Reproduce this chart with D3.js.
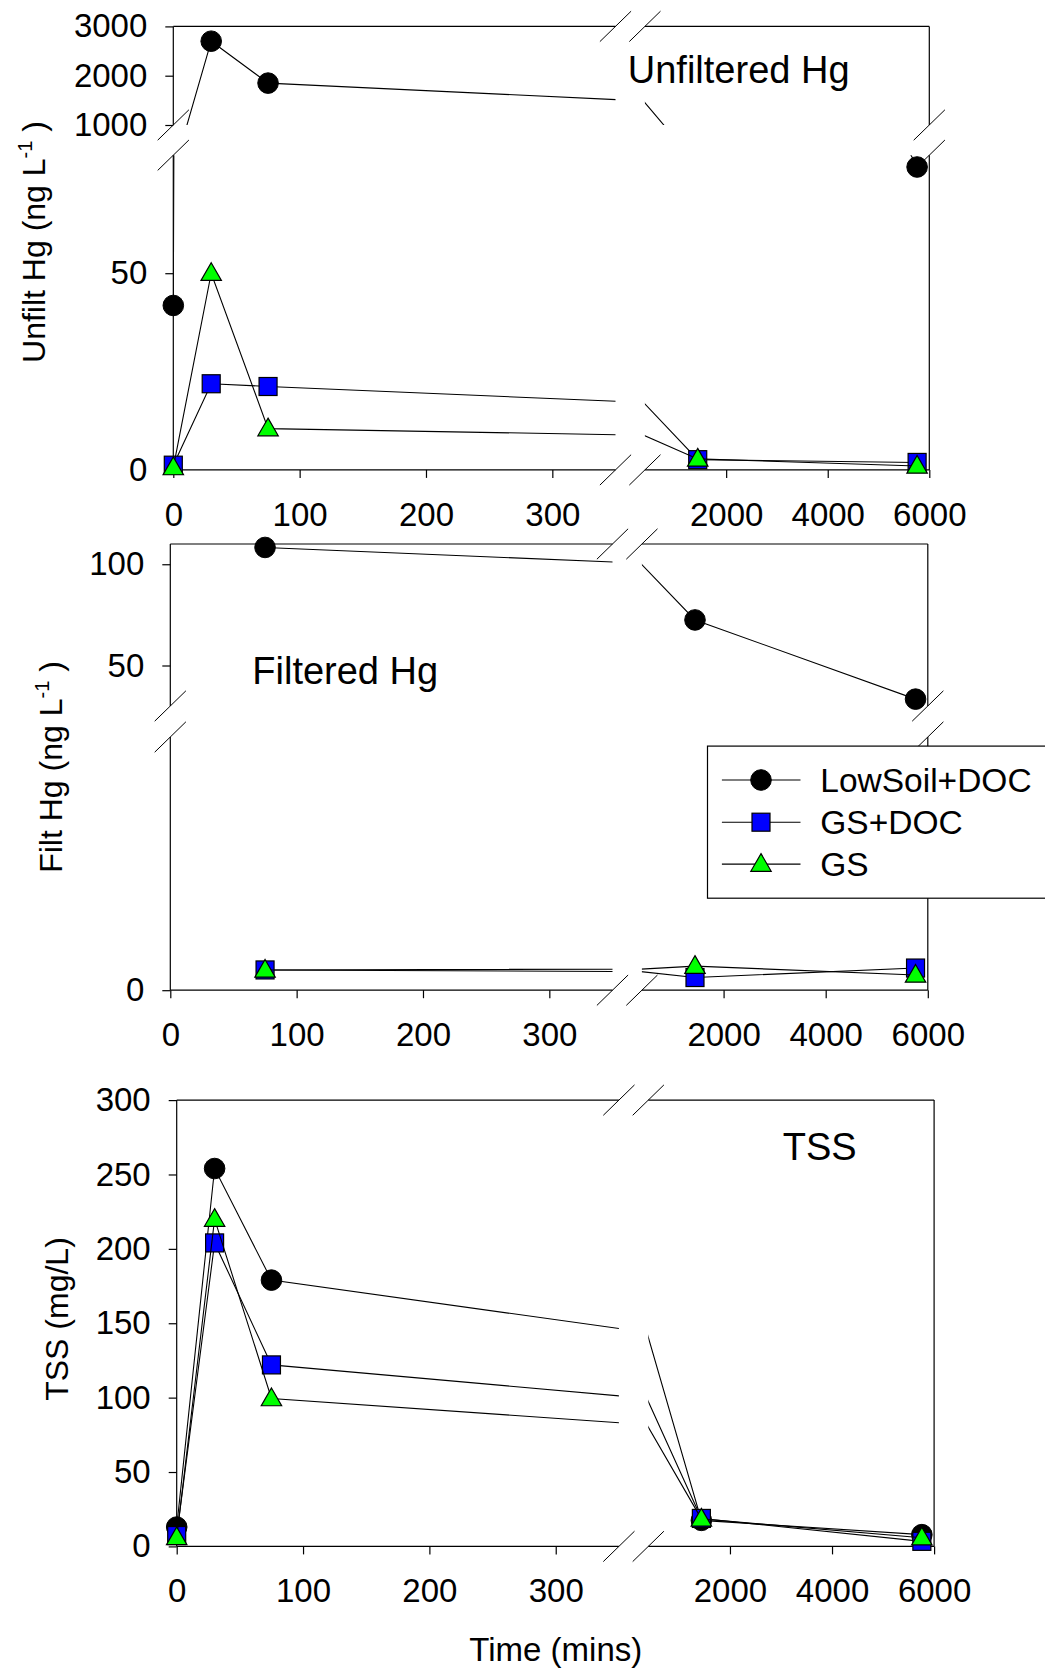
<!DOCTYPE html>
<html>
<head>
<meta charset="utf-8">
<script src="https://cdn.jsdelivr.net/npm/d3@7"></script>
<style>
  html, body { margin: 0; padding: 0; background: #fff; }
  svg { display: block; font-family: "Liberation Sans", Arial, sans-serif; }
</style>
</head>
<body>
<svg id="chart" width="1045" height="1670"></svg>
<script>
// ---------------- DATA ----------------
const time = [0, 30, 75, 1440, 5760];
const seriesNames = ["LowSoil+DOC", "GS+DOC", "GS"];

const unfiltLowSoilDOC = [41.8, 2700, 1850, 185, 77];
const unfiltGSDOC      = [1.2, 21.9, 21.2, 2.6, 1.9];
const unfiltGS         = [0.6, 50, 10.5, 2.8, 1.0];

const filtLowSoilDOC = [null, null, 108.3, 72.5, 33.4];
const filtGSDOC      = [null, null, 1.6, 1.0, 1.75];
const filtGS         = [null, null, 1.6, 1.9, 1.2];

const tssLowSoilDOC = [13, 254, 179, 17.5, 7.9];
const tssGSDOC      = [7.3, 204, 122, 18.8, 3.4];
const tssGS         = [6, 220, 99.4, 18.5, 5.8];

const xDomainLeft = [0, 350];
const xDomainRight = [400, 6000];
const xTicksLeft = [0, 100, 200, 300];
const xTicksRight = [2000, 4000, 6000];

const unfiltDomainUpper = [1000, 3000];
const unfiltDomainLower = [0, 80];
const unfiltTicksUpper = [1000, 2000, 3000];
const unfiltTicksLower = [0, 50];

const filtDomainUpper = [30, 110];
const filtDomainLower = [0, 20];
const filtTicksUpper = [50, 100];
const filtTicksLower = [0];

const tssDomain = [0, 300];
const tssTicks = [0, 50, 100, 150, 200, 250, 300];

// ---------------- STYLE ----------------
const symbolStyles = [
  { shape: "circle", fill: "#000000" },
  { shape: "square", fill: "#0000FF" },
  { shape: "triangle", fill: "#00FF00" }
];

const svg = d3.select("#chart");
const FONT_TICK = 33;
let clipId = 0;

function drawSymbol(g, shape, fill, x, y) {
  if (shape === "circle") {
    g.append("circle").attr("cx", x).attr("cy", y).attr("r", 10.3)
      .attr("fill", fill).attr("stroke", "#000").attr("stroke-width", 1);
  } else if (shape === "square") {
    g.append("rect").attr("x", x - 9).attr("y", y - 9).attr("width", 18).attr("height", 18)
      .attr("fill", fill).attr("stroke", "#000").attr("stroke-width", 1.2);
  } else {
    g.append("path")
      .attr("d", `M${x},${y - 10.5}L${x + 10.2},${y + 7.2}L${x - 10.2},${y + 7.2}Z`)
      .attr("fill", fill).attr("stroke", "#000").attr("stroke-width", 1.2);
  }
}

function breakMark(g, cx, cy) {
  g.append("line")
    .attr("x1", cx - 15.6).attr("y1", cy + 15.2)
    .attr("x2", cx + 15.6).attr("y2", cy - 15.2)
    .attr("stroke", "#000").attr("stroke-width", 1);
}

function drawPanel(cfg) {
  const g = svg.append("g");
  const xSegs = [
    { dom: xDomainLeft, r: [cfg.x0, cfg.x0 + 442.2], ticks: xTicksLeft },
    { dom: xDomainRight, r: [cfg.x0 + 471.6, cfg.x1], ticks: xTicksRight }
  ];
  xSegs.forEach(s => s.scale = d3.scaleLinear().domain(s.dom).range(s.r));
  const ySegs = cfg.ySegs;
  ySegs.forEach(s => s.scale = d3.scaleLinear().domain(s.dom).range(s.r));

  const axisG = g.append("g");
  ySegs.forEach(s => {
    [cfg.x0, cfg.x1].forEach(x => {
      axisG.append("line").attr("x1", x).attr("x2", x)
        .attr("y1", s.r[0]).attr("y2", s.r[1])
        .attr("stroke", "#000").attr("stroke-width", 1.2);
    });
  });
  xSegs.forEach(s => {
    [cfg.top, cfg.bottom].forEach(y => {
      axisG.append("line").attr("y1", y).attr("y2", y)
        .attr("x1", s.r[0]).attr("x2", s.r[1])
        .attr("stroke", "#000").attr("stroke-width", 1.2);
    });
  });

  ySegs.forEach(s => {
    const a = axisG.append("g").attr("transform", `translate(${cfg.x0},0)`)
      .call(d3.axisLeft(s.scale).tickValues(s.ticks).tickSize(8).tickPadding(18).tickFormat(d3.format("d")));
    a.select(".domain").remove();
    a.selectAll("line").attr("stroke", "#000").attr("stroke-width", 1.2);
    a.selectAll("text").attr("font-size", FONT_TICK).attr("fill", "#000")
      .attr("font-family", '"Liberation Sans", Arial, sans-serif');
  });
  xSegs.forEach(s => {
    const a = axisG.append("g").attr("transform", `translate(0,${cfg.bottom})`)
      .call(d3.axisBottom(s.scale).tickValues(s.ticks).tickSize(8).tickPadding(24.6).tickFormat(d3.format("d")));
    a.select(".domain").remove();
    a.selectAll("line").attr("stroke", "#000").attr("stroke-width", 1.2);
    a.selectAll("text").attr("font-size", FONT_TICK).attr("fill", "#000")
      .attr("font-family", '"Liberation Sans", Arial, sans-serif');
  });

  [xSegs[0].r[1], xSegs[1].r[0]].forEach(x => {
    breakMark(axisG, x, cfg.top);
    breakMark(axisG, x, cfg.bottom);
  });
  if (ySegs.length > 1) {
    const edges = [ySegs[0].r[0], ySegs[1].r[1]];
    edges.forEach(y => {
      breakMark(axisG, cfg.x0, y);
      breakMark(axisG, cfg.x1, y);
    });
  }

  const t = g.append("text")
    .attr("transform", `translate(${cfg.titleX},${cfg.titleY}) rotate(-90)`)
    .attr("text-anchor", "middle").attr("font-size", 32).attr("fill", "#000");
  t.append("tspan").text(cfg.yTitle);
  if (cfg.yTitleSup) {
    t.append("tspan").attr("font-size", 20).attr("dy", -13).text(cfg.yTitleSup);
    t.append("tspan").attr("dy", 13).text(" )");
  }

  g.append("text").attr("x", cfg.labelX).attr("y", cfg.labelY)
    .attr("font-size", 38).attr("fill", "#000").text(cfg.label);

  const dataG = g.append("g");
  cfg.series.forEach((vals, si) => {
    const pts = time.map((tt, i) => ({ t: tt, v: vals[i] }));
    xSegs.forEach(xs => {
      ySegs.forEach(ys => {
        const id = "clip" + (clipId++);
        const yTop = Math.min(ys.r[0], ys.r[1]), yBot = Math.max(ys.r[0], ys.r[1]);
        svg.append("clipPath").attr("id", id).append("rect")
          .attr("x", xs.r[0]).attr("y", yTop)
          .attr("width", xs.r[1] - xs.r[0]).attr("height", yBot - yTop);
        const line = d3.line().defined(d => d.v != null)
          .x(d => xs.scale(d.t)).y(d => ys.scale(d.v));
        dataG.append("path").attr("d", line(pts))
          .attr("clip-path", `url(#${id})`)
          .attr("fill", "none").attr("stroke", "#000").attr("stroke-width", 1.1);
      });
    });
    pts.forEach(p => {
      if (p.v == null) return;
      const xs = xSegs.find(s => p.t >= s.dom[0] && p.t <= s.dom[1]);
      const ys = ySegs.find(s => p.v >= s.dom[0] && p.v <= s.dom[1]);
      if (!xs || !ys) return;
      drawSymbol(dataG, symbolStyles[si].shape, symbolStyles[si].fill, xs.scale(p.t), ys.scale(p.v));
    });
  });
}

// ---------------- PANELS ----------------
drawPanel({
  x0: 173.3, x1: 929.3, top: 26.4, bottom: 469.9,
  ySegs: [
    { dom: unfiltDomainUpper, r: [125, 26.4], ticks: unfiltTicksUpper },
    { dom: unfiltDomainLower, r: [469.9, 155.2], ticks: unfiltTicksLower }
  ],
  yTitle: "Unfilt Hg (ng L", yTitleSup: "-1", titleX: 45, titleY: 242,
  label: "Unfiltered Hg", labelX: 627.8, labelY: 82.8,
  series: [unfiltLowSoilDOC, unfiltGSDOC, unfiltGS]
});

drawPanel({
  x0: 170.3, x1: 927.8, top: 544, bottom: 990.2,
  ySegs: [
    { dom: filtDomainUpper, r: [706, 544], ticks: filtTicksUpper },
    { dom: filtDomainLower, r: [990.2, 737], ticks: filtTicksLower }
  ],
  yTitle: "Filt Hg (ng L", yTitleSup: "-1", titleX: 62, titleY: 767,
  label: "Filtered Hg", labelX: 252.3, labelY: 684.2,
  series: [filtLowSoilDOC, filtGSDOC, filtGS]
});

drawPanel({
  x0: 176.7, x1: 934.1, top: 1100.1, bottom: 1546.4,
  ySegs: [
    { dom: tssDomain, r: [1546.4, 1100.1], ticks: tssTicks }
  ],
  yTitle: "TSS (mg/L)", yTitleSup: null, titleX: 68, titleY: 1319,
  label: "TSS", labelX: 782.8, labelY: 1160.4,
  series: [tssLowSoilDOC, tssGSDOC, tssGS]
});

svg.append("text").attr("x", 555.8).attr("y", 1660.7).attr("text-anchor", "middle")
  .attr("font-size", 33).attr("fill", "#000").text("Time (mins)");

// ---------------- LEGEND ----------------
const lg = svg.append("g");
lg.append("rect").attr("x", 707.5).attr("y", 746.1).attr("width", 360).attr("height", 152.1)
  .attr("fill", "#fff").attr("stroke", "#000").attr("stroke-width", 1.2);
const rowY = [780, 822.2, 864.1];
seriesNames.forEach((name, i) => {
  lg.append("line").attr("x1", 721.9).attr("x2", 800.5).attr("y1", rowY[i]).attr("y2", rowY[i])
    .attr("stroke", "#000").attr("stroke-width", 1.1);
  drawSymbol(lg, symbolStyles[i].shape, symbolStyles[i].fill, 761, rowY[i]);
  lg.append("text").attr("x", 820.3).attr("y", rowY[i] + 12)
    .attr("font-size", 33.5).attr("fill", "#000").text(name);
});
</script>
</body>
</html>
